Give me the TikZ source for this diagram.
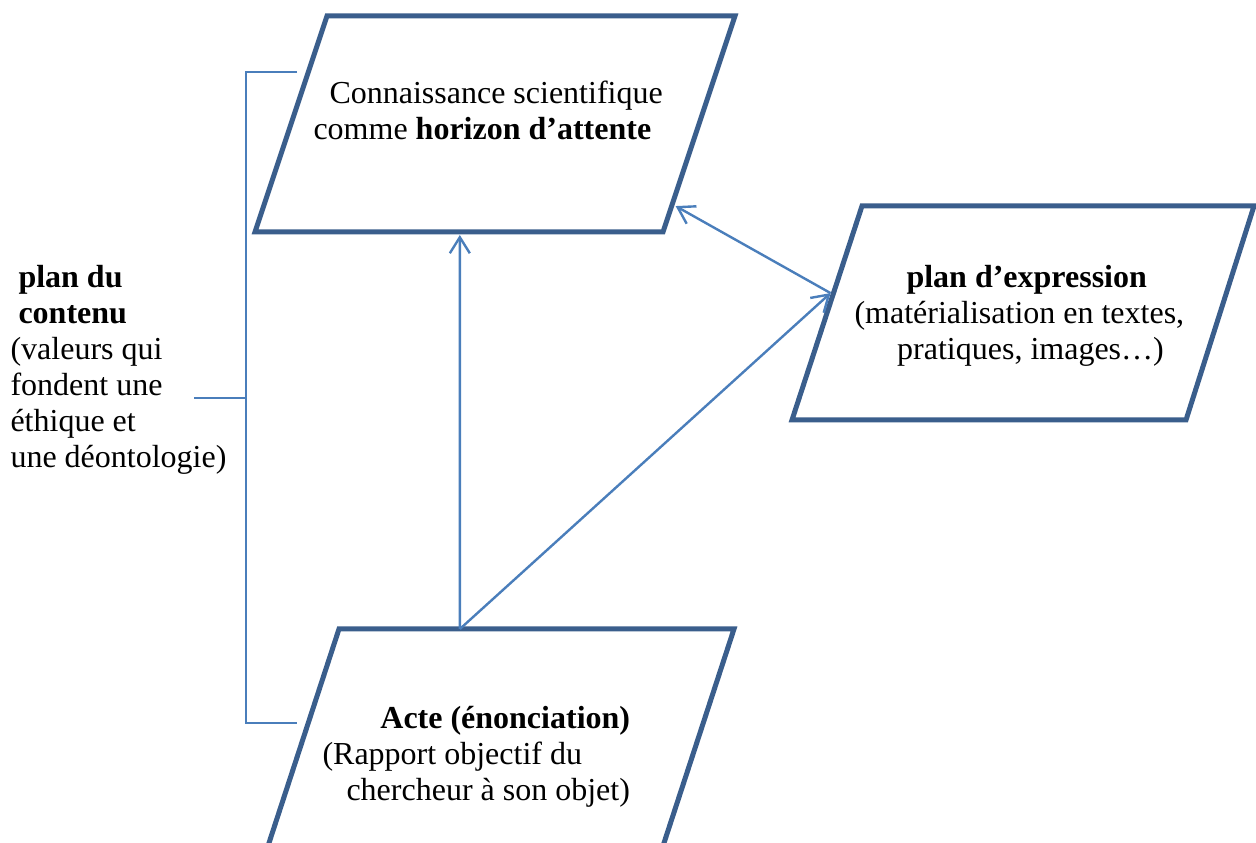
\documentclass[tikz,border=0pt]{standalone}
\usepackage{fontspec}
\setmainfont{Liberation Serif}
\usetikzlibrary{arrows.meta,calc}
\definecolor{paraBlue}{HTML}{3A5E8C}
\definecolor{linkBlue}{HTML}{4A7EBB}
\begin{document}
\begin{tikzpicture}[x=0.375pt,y=-0.375pt,
  para/.style={draw=paraBlue,line width=1.875pt},
  conn/.style={draw=linkBlue,line width=0.9pt,-{Straight Barb[length=6pt,width=7.5pt]}},
  brace/.style={draw=linkBlue,line width=0.75pt},
  txt/.style={inner sep=0pt,anchor=north west,align=left,font=\fontsize{12pt}{13.5pt}\selectfont}]
\useasboundingbox (0,0) rectangle (1256,843);
% top parallelogram
\coordinate (t1) at (327,16);
\coordinate (t2) at (735,16);
\coordinate (t3) at (663,232);
\coordinate (t4) at (255,232);
\draw[para] (t1)--(t2)--(t3)--(t4)--cycle;
% right parallelogram
\coordinate (r1) at (862,206);
\coordinate (r2) at (1254,206);
\coordinate (r3) at (1186,420);
\coordinate (r4) at (792,420);
\draw[para] (r1)--(r2)--(r3)--(r4)--cycle;
% bottom parallelogram
\coordinate (b1) at (339,629);
\coordinate (b2) at (734,629);
\coordinate (b3) at (663,846);
\coordinate (b4) at (268,846);
\draw[para] (b1)--(b2)--(b3)--(b4)--cycle;
% connector ends
\coordinate (tBot) at ($(t4)!0.502!(t3)+(0,3)$);
\coordinate (tRight) at ($(t2)!0.88!(t3)+(4,0)$);
\coordinate (rLeft) at ($(r1)!0.407!(r4)+(-3,0)$);
\coordinate (bTop) at ($(b1)!0.306!(b2)$);
\draw[conn] (bTop) -- (tBot);
\draw[conn] (bTop) -- (rLeft);
\draw[conn] (rLeft) -- (tRight);
% bracket
\coordinate (k1) at (297,72);
\coordinate (k2) at (246,72);
\coordinate (k3) at (246,723);
\coordinate (k4) at (297,723);
\coordinate (k5) at (194,398);
\coordinate (k6) at (246,398);
\draw[brace] (k1)--(k2)--(k3)--(k4);
\draw[brace] (k5)--(k6);
% texts
\node[txt] (lblContent) at (10,265) {\hspace*{3pt}\textbf{plan du}\\ \hspace*{3pt}\textbf{contenu}\\(valeurs qui\\fondent une\\éthique et\\une déontologie)};
\node[txt] (lblKnow) at (313,80) {\hspace*{6pt}Connaissance scientifique\\comme \textbf{horizon d’attente}};
\node[txt] (lblExpr) at (854,265) {\hspace*{19.5pt}\textbf{plan d’expression}\\(matérialisation en textes,\\\hspace*{16pt}pratiques, images…)};
\node[txt] (lblAct) at (322,706) {\hspace*{21.7pt}\textbf{Acte (énonciation)}\\(Rapport objectif du\\\hspace*{9pt}chercheur à son objet)};
\end{tikzpicture}
\end{document}
